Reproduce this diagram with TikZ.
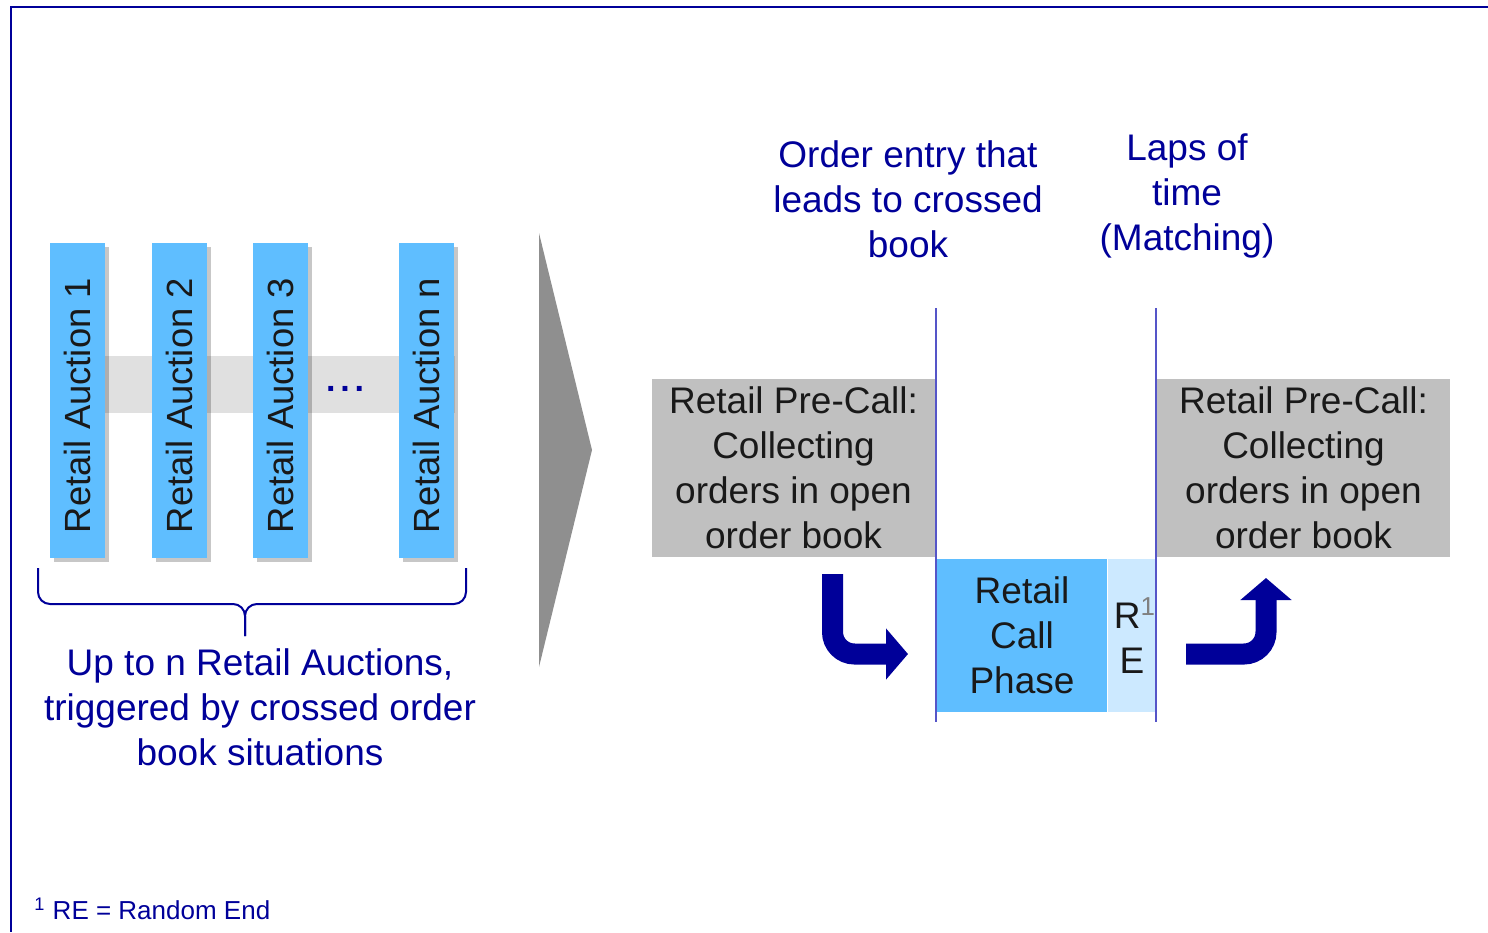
\documentclass[tikz,border=0pt]{standalone}
\usepackage{graphicx}
\usepackage{fontspec}
\setmainfont{Liberation Sans}
\usetikzlibrary{positioning, arrows.meta, shadows}
\definecolor{xetraNavy}{RGB}{0, 0, 153}
\definecolor{auctionBlue}{RGB}{95, 190, 255}
\definecolor{endBlue}{RGB}{204, 233, 255}
\definecolor{phaseGray}{RGB}{192, 192, 192}
\definecolor{bandGray}{RGB}{224, 224, 224}
\definecolor{chevronGray}{RGB}{143, 143, 143}
\definecolor{ruleBlue}{RGB}{85, 85, 200}
\definecolor{inkDark}{RGB}{25, 25, 25}
\newcommand{\auctionLabel}[1]{\rotatebox{90}{\parbox{132.5pt}{\raggedright #1}}}
\tikzset{
  frameLine/.style={
    draw=xetraNavy,
    line width=1pt
  },
  auctionBar/.style={
    fill=auctionBlue,
    minimum width=27.5pt,
    minimum height=157.5pt,
    inner sep=0pt,
    text=inkDark,
    font=\fontsize{18.2}{22}\selectfont,
    drop shadow={shadow xshift=2pt, shadow yshift=-2pt, opacity=0.22, fill=black}
  },
  braceLine/.style={
    draw=xetraNavy,
    line width=1pt,
    rounded corners=6pt
  },
  blueText/.style={
    align=center,
    inner sep=0pt,
    text=xetraNavy,
    font=\fontsize{18.5}{22.5}\selectfont
  },
  phaseBox/.style={
    fill=phaseGray,
    minimum height=89pt,
    inner sep=0pt,
    align=center,
    text=inkDark,
    font=\fontsize{18.5}{22.5}\selectfont
  },
  callBox/.style={
    fill=auctionBlue,
    minimum width=85pt,
    minimum height=76.5pt,
    inner sep=0pt,
    align=center,
    text=inkDark,
    font=\fontsize{18.5}{22.5}\selectfont
  },
  endBox/.style={
    fill=endBlue,
    minimum width=24pt,
    minimum height=76.5pt,
    inner sep=0pt,
    align=center,
    text=inkDark,
    font=\fontsize{18.5}{22.5}\selectfont
  },
  sepLine/.style={
    draw=ruleBlue,
    line width=1pt
  },
  turnArrow/.style={
    draw=xetraNavy,
    line width=10.5pt,
    rounded corners=11pt,
    -{Triangle[length=11pt, width=25pt]}
  }
}
\begin{document}
\begin{tikzpicture}[x=0.5pt, y=-0.5pt]
  \useasboundingbox (0,0) rectangle (1488,932);
  \draw[frameLine] (1488,7) -- (11,7) -- (11,932);
  % Left: up to n retail auctions
  \fill[bandGray] (105,356) rectangle (455,413);
  \node[auctionBar] (auc1) at (77.5,400.5) {\auctionLabel{Retail Auction 1}};
  \node[auctionBar] (auc2) at (179,400.5) {\auctionLabel{Retail Auction 2}};
  \node[auctionBar] (auc3) at (280,400.5) {\auctionLabel{Retail Auction 3}};
  \node[auctionBar] (aucN) at (426,400.5) {\auctionLabel{Retail Auction n}};
  \node[blueText, font=\bfseries\fontsize{17}{22}\selectfont] (dots) at (345,389) {.\hspace{2.4pt}.\hspace{2.4pt}.};
  \coordinate (braceTip) at (245,636);
  \draw[braceLine] (38,568) -- (38,604) -- (245,604) -- (braceTip);
  \draw[braceLine] (466,568) -- (466,604) -- (245,604) -- (braceTip);
  \node[blueText] (aucNote) at (260,707) {Up to n Retail Auctions,\\triggered by crossed order\\book situations};
  \fill[chevronGray] (539,233) -- (592,450) -- (539,667) -- cycle;
  % Right: pre-call, call phase, random end
  \node[blueText] (entryNote) at (908,199) {Order entry that\\leads to crossed\\book};
  \node[blueText] (lapsNote) at (1187,196) {Laps of\\time\\(Matching)};
  \node[phaseBox, minimum width=141.5pt] (preL) at (793.5,468) {Retail Pre-Call:\\Collecting\\orders in open\\order book};
  \node[phaseBox, minimum width=146.5pt] (preR) at (1303.5,468) {Retail Pre-Call:\\Collecting\\orders in open\\order book};
  \node[callBox] (callPhase) at (1022,635.5) {Retail\\Call\\Phase};
  \node[endBox, right=0pt of callPhase] (randEnd) {\hspace{3pt}R\textsuperscript{\color{gray}1}\\E};
  \draw[sepLine] (936,308) -- (936,722);
  \draw[sepLine] (1156,308) -- (1156,722);
  \coordinate (dnStart) at (832.5,574);
  \coordinate (dnEnd) at (908,654);
  \draw[turnArrow] (dnStart) |- (dnEnd);
  \coordinate (upStart) at (1186,654);
  \coordinate (upEnd) at (1266,578);
  \draw[turnArrow] (upStart) -| (upEnd);
  \node[blueText, font=\fontsize{13}{16}\selectfont, anchor=west] (footNote) at (34,909) {\textsuperscript{1} RE = Random End};
\end{tikzpicture}
\end{document}
